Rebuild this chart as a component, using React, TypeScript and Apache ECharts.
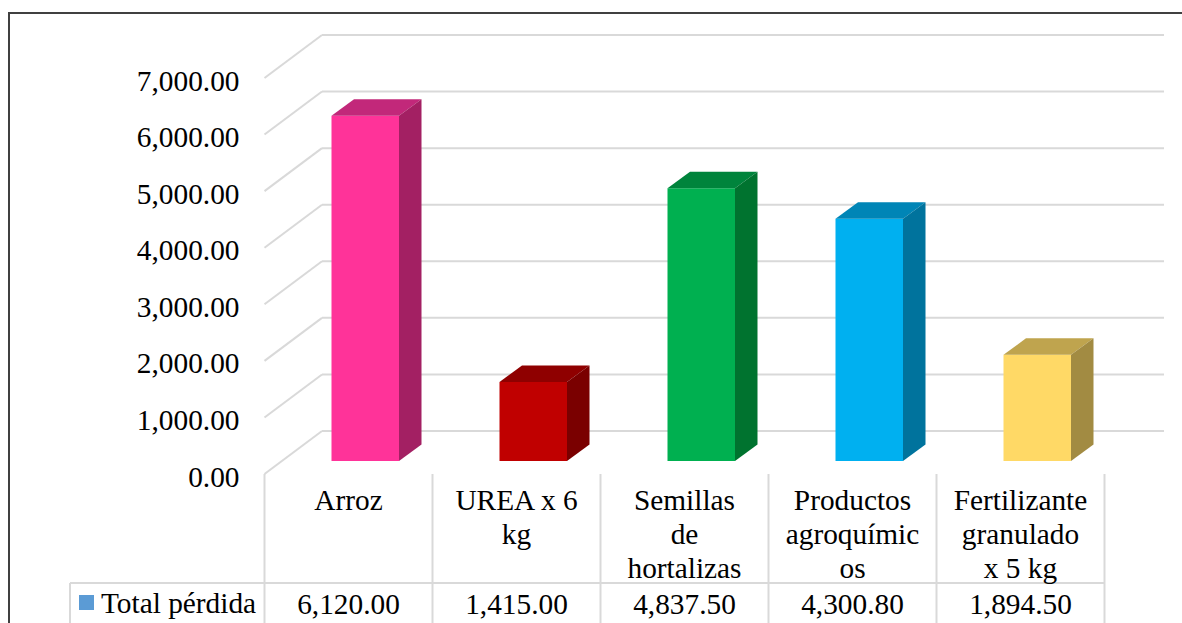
import React, { useEffect, useRef } from "react";
import * as echarts from "echarts";

const categories = ["Arroz", "UREA x 6\nkg", "Semillas\nde\nhortalizas", "Productos\nagroquímic\nos", "Fertilizante\ngranulado\nx 5 kg"];
const totalPerdida = [6120.0, 1415.0, 4837.5, 4300.8, 1894.5];
const yTicks = [0, 1000, 2000, 3000, 4000, 5000, 6000, 7000];
const frontColors = ["#FF3399", "#C00000", "#00B050", "#00B0F0", "#FFD966"];
const topColors = ["#C2287A", "#8F0000", "#00843C", "#0085B6", "#BFA44E"];
const sideColors = ["#A32063", "#7A0000", "#00732F", "#00739D", "#A28B42"];
const seriesName = "Total pérdida";

const FONT = "Liberation Serif";
const FS = 29.33;
const GRID = "#D9D9D9";
const fmt = (v: number) => v.toLocaleString("en-US", { minimumFractionDigits: 2, maximumFractionDigits: 2 });

export default function App() {
  const ref = useRef<HTMLDivElement>(null);
  useEffect(() => {
    const chart = echarts.init(ref.current!, null, { renderer: "svg" });
    const line = (x1: number, y1: number, x2: number, y2: number) => ({
      type: "line",
      shape: { x1, y1, x2, y2 },
      style: { stroke: GRID, lineWidth: 2 },
      silent: true,
    });
    chart.setOption({
      animation: false,
      backgroundColor: "#FFFFFF",
      grid: { left: 264.5, right: 77.5, top: 78, bottom: 149 },
      legend: {
        data: [{ name: seriesName, icon: "rect", itemStyle: { color: "#5B9BD5" } }],
        left: 79,
        top: 588,
        itemWidth: 15,
        itemHeight: 15,
        itemGap: 0,
        padding: 0,
        selectedMode: false,
        textStyle: { fontFamily: FONT, fontSize: FS, color: "#000", padding: [0, 0, 0, 2] },
      },
      xAxis: {
        type: "category",
        data: categories,
        axisLine: { show: false },
        axisTick: { show: false },
        splitLine: { show: false },
        axisLabel: {
          interval: 0,
          margin: 9,
          fontFamily: FONT,
          fontSize: FS,
          lineHeight: 34,
          color: "#000",
          align: "center",
          verticalAlign: "top",
        },
      },
      yAxis: {
        type: "value",
        min: 0,
        max: 7000,
        interval: 1000,
        axisLine: { show: false },
        axisTick: { show: false },
        splitLine: { show: false },
        axisLabel: {
          margin: 25,
          fontFamily: FONT,
          fontSize: FS,
          color: "#000",
          formatter: (v: number) => `{n|${fmt(v)}}`,
          rich: {
            n: { fontFamily: FONT, fontSize: FS, color: "#000", padding: [5, 0, 0, 0] },
          },
        },
      },
      series: [
        {
          type: "custom",
          name: "walls",
          z: 1,
          silent: true,
          legendHoverLink: false,
          data: yTicks.map((v) => [0, v]),
          renderItem: (_p: any, api: any) => {
            const y = api.coord([0, api.value(1)])[1];
            return {
              type: "group",
              children: [line(264.5, y, 322, y - 43), line(322, y - 43, 1164, y - 43)],
            };
          },
        },
        {
          type: "custom",
          name: seriesName,
          z: 2,
          itemStyle: { color: "#5B9BD5" },
          data: totalPerdida.map((v, i) => [i, v]),
          renderItem: (_p: any, api: any) => {
            const i = api.value(0);
            const [cx, yTop] = api.coord([i, api.value(1)]);
            const yBase = api.coord([i, 0])[1];
            const l = cx - 17;
            const r = l + 67.5;
            const t = yTop - 12;
            const b = yBase - 13;
            const dx = 22.5;
            const dy = 16.5;
            return {
              type: "group",
              children: [
                { type: "polygon", shape: { points: [[l, b], [r, b], [r, t], [l, t]] }, style: { fill: frontColors[i] } },
                { type: "polygon", shape: { points: [[l, t], [r, t], [r + dx, t - dy], [l + dx, t - dy]] }, style: { fill: topColors[i] } },
                { type: "polygon", shape: { points: [[r, b], [r + dx, b - dy], [r + dx, t - dy], [r, t]] }, style: { fill: sideColors[i] } },
              ],
            };
          },
        },
        {
          type: "custom",
          name: "table",
          z: 3,
          silent: true,
          data: totalPerdida.map((v, i) => [i, v]),
          renderItem: (_p: any, api: any) => {
            const i = api.value(0);
            const cx = api.coord([i, 0])[0];
            return {
              type: "text",
              style: {
                text: fmt(api.value(1)),
                x: cx,
                y: 603.5,
                align: "center",
                verticalAlign: "middle",
                fontFamily: FONT,
                fontSize: FS,
                fill: "#000",
              },
            };
          },
        },
      ],
      graphic: [
        { type: "polyline", shape: { points: [[9, 623], [9, 13], [1182, 13]] }, style: { stroke: "#404040", lineWidth: 2, fill: "none" }, silent: true },
        ...[264.5, 432.5, 600.5, 768.5, 936.5, 1104.5].map((x) => line(x, 474, x, 623)),
        line(70, 583, 1104.5, 583),
        line(70, 583, 70, 623),
      ],
    });
    return () => chart.dispose();
  }, []);
  return (
    <div style={{ position: "fixed", left: 0, top: 0, width: 1182, height: 623, overflow: "hidden", background: "#fff" }}>
      <div ref={ref} style={{ width: 1182, height: 623 }} />
    </div>
  );
}
